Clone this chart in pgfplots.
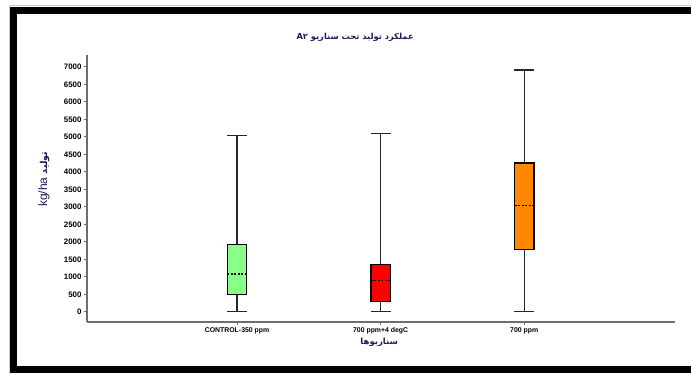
\documentclass[border=0pt]{standalone}
\usepackage{fontspec}
\usepackage{pgfplots}
\pgfplotsset{compat=1.18}
\setmainfont{Liberation Sans}
\newfontfamily\fa[Script=Arabic]{DejaVu Sans}
\TeXXeTstate=1
\definecolor{navy}{HTML}{1C1C5C}
\definecolor{axgray}{HTML}{6E6E6E}
\definecolor{bgreen}{HTML}{88FF88}
\definecolor{bred}{HTML}{FF0000}
\definecolor{borange}{HTML}{FF8800}
\begin{document}
\begin{tikzpicture}
\path[use as bounding box] (0pt,0pt) rectangle (691pt,374pt);
\draw[gray!40, line width=1pt] (9pt,0pt) -- (9pt,368.5pt) -- (691pt,368.5pt);
\fill[black] (10pt,1pt) rectangle (691pt,8pt);
\fill[black] (10pt,1pt) rectangle (17pt,367pt);
\fill[black] (10pt,360pt) rectangle (691pt,367pt);
\begin{axis}[
  at={(87pt,52pt)}, anchor=south west,
  scale only axis, width=588pt, height=267pt,
  xmin=-0.045, xmax=4.05,
  ymin=-290, ymax=7340,
  axis lines=left,
  axis line style={axgray, line width=1.6pt, -},
  xtick={1,2,3},
  xticklabels={CONTROL-350 ppm,700 ppm+4 degC,700 ppm},
  ytick={0,500,...,7000},
  tick pos=left,
  tick align=outside,
  major tick length=3pt,
  tick style={axgray, line width=0.8pt},
  xticklabel style={font=\bfseries\fontsize{6.9}{7.5}\selectfont, yshift=1pt},
  yticklabel style={font=\bfseries\fontsize{7.9}{8.5}\selectfont, xshift=1pt},
  /pgf/number format/1000 sep={},
  /pgf/number format/assume math mode=true,
  clip=false,
  whisk/.style={black!85, line width=1.3pt, mark=none},
  med/.style={black, line width=1.2pt, dash pattern=on 2pt off 1.5pt, mark=none},
  box/.style={draw=black, line width=1.3pt, mark=none},
]
% CONTROL-350 ppm: min 0, q1 490, median 1080, q3 1915, max 5040
\addplot[whisk] coordinates {(1,0) (1,490)};
\addplot[whisk] coordinates {(1,1915) (1,5040)};
\addplot[whisk] coordinates {(0.93,0) (1.07,0)};
\addplot[whisk] coordinates {(0.93,5040) (1.07,5040)};
\addplot[box, fill=bgreen] coordinates {(0.9325,490) (1.0675,490) (1.0675,1915) (0.9325,1915) (0.9325,490)};
\addplot[med] coordinates {(0.9325,1080) (1.0675,1080)};
% 700 ppm+4 degC: min 0, q1 295, median 905, q3 1360, max 5090
\addplot[whisk] coordinates {(2,0) (2,295)};
\addplot[whisk] coordinates {(2,1360) (2,5090)};
\addplot[whisk] coordinates {(1.93,0) (2.07,0)};
\addplot[whisk] coordinates {(1.93,5090) (2.07,5090)};
\addplot[box, fill=bred] coordinates {(1.9325,295) (2.0675,295) (2.0675,1360) (1.9325,1360) (1.9325,295)};
\addplot[med] coordinates {(1.9325,905) (2.0675,905)};
% 700 ppm: min 0, q1 1775, median 3035, q3 4255, max 6915
\addplot[whisk] coordinates {(3,0) (3,1775)};
\addplot[whisk] coordinates {(3,4255) (3,6915)};
\addplot[whisk] coordinates {(2.93,0) (3.07,0)};
\addplot[whisk] coordinates {(2.93,6915) (3.07,6915)};
\addplot[box, fill=borange] coordinates {(2.9325,1775) (3.0675,1775) (3.0675,4255) (2.9325,4255) (2.9325,1775)};
\addplot[med] coordinates {(2.9325,3035) (3.0675,3035)};
\node[font=\fa\bfseries\fontsize{8.3}{9}\selectfont, text=navy] at (axis description cs:0.456,1.067) {\beginR عملکرد تولید تحت سناریو \beginL A۲\endL\endR};
\node[font=\fa\bfseries\fontsize{8.5}{9}\selectfont, text=navy] at (axis description cs:0.497,-0.077) {\beginR سناریوها\endR};
\node[rotate=90, text=navy, font=\fontsize{12}{13}\selectfont] at (axis description cs:-0.073,0.535) {kg/ha {\fa\bfseries\fontsize{9.5}{10}\selectfont\beginR تولید\endR}};
\end{axis}
\end{tikzpicture}
\end{document}
